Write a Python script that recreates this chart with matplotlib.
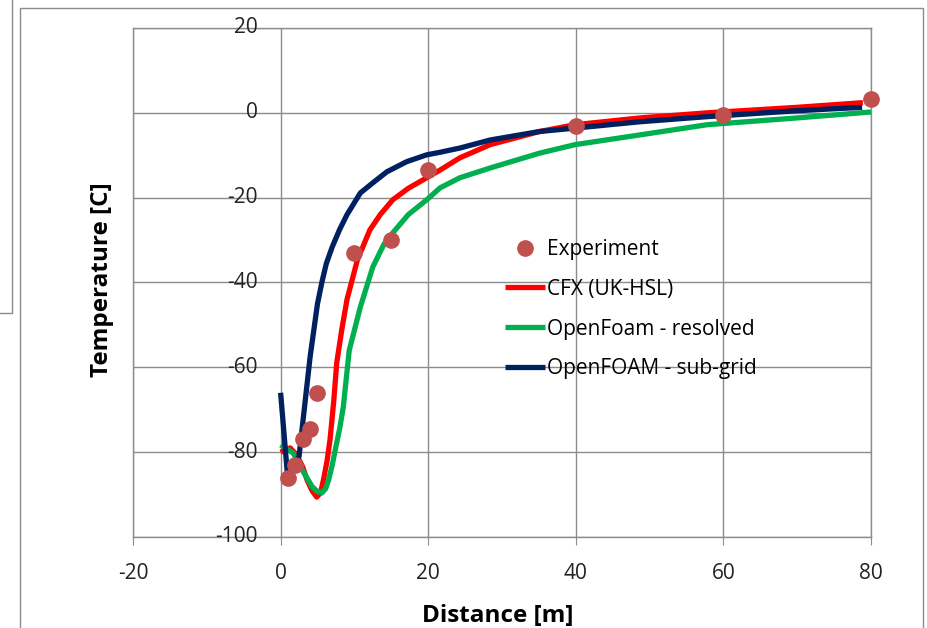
import matplotlib
matplotlib.use("Agg")
import matplotlib.pyplot as plt
from matplotlib.lines import Line2D

plt.rcParams['font.family'] = ['Open Sans', 'DejaVu Sans']
plt.rcParams['axes.unicode_minus'] = False

# Measured temperatures
exp_x = [1, 2, 3, 4, 5, 10, 15, 20, 40, 60, 80]
exp_y = [-86, -83, -77, -74.5, -66, -33, -30, -13.5, -3, -0.5, 3.3]

# CFX (UK-HSL)
cfx_x = [0, 1.3, 2.2, 3.0, 3.6, 4.3, 4.9, 5.4, 5.8, 6.3, 6.7, 7.2, 7.6, 8.3,
         9.0, 10.4, 12.1, 13.5, 15.2, 17.3, 19.8, 21.6, 24.3, 28.4, 35.1,
         39.9, 48.7, 57.8, 70, 78.9]
cfx_y = [-80, -79, -80.7, -83.5, -86.6, -89.2, -90.6, -89.6, -86.6, -82,
         -77, -68, -59, -51, -44, -34.7, -27.6, -24, -20.5, -17.8, -15.3,
         -13.5, -10.6, -7.5, -4.4, -2.8, -1.2, 0, 1.3, 2.4]

# OpenFoam - resolved
res_x = [0, 1.7, 3.1, 4.3, 5.0, 5.6, 6.1, 6.5, 7.0, 7.4, 8.0, 8.5, 9.3,
         10.8, 12.5, 14.0, 15.2, 17.3, 19.8, 21.6, 24.3, 28.4, 35.1, 39.9,
         48.7, 57.8, 70, 80]
res_y = [-78.3, -80.2, -84.7, -88.2, -89.3, -89.6, -88.6, -86.6, -83,
         -79.5, -74.5, -69.3, -56, -45.8, -36.3, -31, -28.3, -24, -20.5,
         -17.7, -15.3, -13, -9.5, -7.5, -5.2, -2.8, -1.2, 0.2]

# OpenFOAM - sub-grid
sub_x = [0, 0.9, 2.5, 3.2, 4.0, 5.0, 5.6, 6.2, 7.0, 8.0, 9.0, 10.8, 12.5,
         14.4, 17.1, 19.8, 21.6, 24.3, 28.4, 35.1, 39.9, 48.7, 57.8, 70,
         78.8]
sub_y = [-66, -84.7, -81, -70, -57.5, -45, -39.9, -35.5, -31.6, -27.5, -24,
         -18.9, -16.5, -13.9, -11.5, -9.9, -9.3, -8.3, -6.4, -4.4, -3.6,
         -2.1, -0.9, 0.5, 1.3]

x_ticks = [-20, 0, 20, 40, 60, 80]
y_ticks = [-100, -80, -60, -40, -20, 0, 20]

W, H = 928, 628
fig = plt.figure(figsize=(W / 100, H / 100), dpi=100)
ax = fig.add_axes([133 / W, 1 - 537 / H, 738 / W, 509 / H])

grid_c = '#8c8c8c'
ax.set_xlim(-20, 80)
ax.set_ylim(-100, 20)
ax.set_xticks(x_ticks)
ax.set_yticks(y_ticks)
ax.grid(True, color=grid_c, linewidth=1.0)
ax.set_axisbelow(True)
for s in ax.spines.values():
    s.set_color(grid_c)
    s.set_linewidth(1.0)
ax.tick_params(axis='x', direction='out', length=6, color=grid_c,
               labelsize=15, pad=13, labelcolor='#222222')
ax.tick_params(axis='y', length=0, labelleft=False)

# value labels along the vertical axis at x = 0
for v in y_ticks:
    ax.text(-3.1, v, str(v), ha='right', va='center', fontsize=15,
            color='#222222')

lw = 3.8
style = dict(lw=lw, solid_joinstyle='round', solid_capstyle='butt', zorder=3)
ax.plot(cfx_x, cfx_y, color='#ff0000', label='CFX (UK-HSL)', **style)
ax.plot(res_x, res_y, color='#00b050', label='OpenFoam - resolved', **style)
ax.plot(sub_x, sub_y, color='#002060', label='OpenFOAM - sub-grid', **style)
ax.plot(exp_x, exp_y, 'o', color='#c0504d', ms=11, mec='#c0504d',
        label='Experiment', zorder=4, clip_on=False)

handles, labels = ax.get_legend_handles_labels()
order = [3, 0, 1, 2]
ax.legend([handles[i] for i in order], [labels[i] for i in order],
          loc='upper left', bbox_to_anchor=(505 / W, 1 - 239 / H),
          bbox_transform=fig.transFigure, frameon=False, fontsize=15,
          handlelength=1.9, handletextpad=0.1, labelspacing=0.9,
          borderpad=0, borderaxespad=0)

ax.set_xlabel('Distance [m]', fontsize=17.5, fontweight='bold')
ax.xaxis.set_label_coords(498 / W, 1 - 604 / H, transform=fig.transFigure)
ax.set_ylabel('Temperature [C]', fontsize=17.5, fontweight='bold')
ax.yaxis.set_label_coords(114 / W, 1 - 280 / H, transform=fig.transFigure)


def fig_line(xs, ys):
    fig.add_artist(Line2D([x / W for x in xs], [1 - y / H for y in ys],
                          color=grid_c, lw=1.0, transform=fig.transFigure))


# chart frame
fig_line([20, 20, 923, 923], [H, 8, 8, H])
# neighbouring frame at the top-left corner
fig_line([0, 12, 12], [313, 313, 0])

fig.savefig('out.png', dpi=100)
